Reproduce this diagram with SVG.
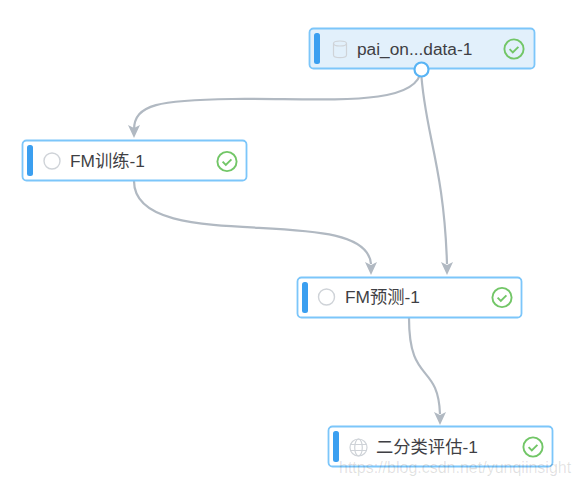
<svg xmlns="http://www.w3.org/2000/svg" width="579" height="486" viewBox="0 0 579 486">
<style>
.box{fill:#fff;stroke:#7cc6fa;stroke-width:1.8}
.sel{fill:#e2f0fb}
.bar{fill:#3b9ff0}
.lbl{font-family:"Liberation Sans","Noto Sans CJK SC",sans-serif;font-size:17.3px;fill:#3f3f44}
.ring{fill:none;stroke:#cfd3d8;stroke-width:1.4}
.ok{fill:none;stroke:#72c667;stroke-width:1.9}
.edge{fill:none;stroke:#b1b9c2;stroke-width:2.2}
.ah{fill:#b1b9c2}
.ic{fill:none;stroke:#cfd3d8;stroke-width:1.2}
.wm{font-family:"Liberation Sans",sans-serif;font-size:16px;fill:#000;fill-opacity:.12}
</style>
<defs>
<g id="chk"><circle r="9.6" class="ok"/><path d="M-4.4 .2 L-1.2 3.4 L4.4 -2.2" class="ok"/></g>
</defs>
<g id="connectors">
<path class="edge" d="M421 70 C418 108 322 98 232 99 C160 100 134 104 134 130"/>
<polygon class="ah" points="128,125 134,138 140,125 134,128"/>
<path class="edge" d="M421 70 C424 130 444 165 447 264"/>
<polygon class="ah" points="441,262 447,275 453,262 447,265"/>
<path class="edge" d="M134 181 C134 258 366 200 371 264"/>
<polygon class="ah" points="365,262 371,275 377,262 371,265"/>
<path class="edge" d="M409 318 C409 385 438 362 440 414"/>
<polygon class="ah" points="434,412 440,425 446,412 440,415"/>
</g>
<g id="node-data">
<rect class="box sel" x="309.500" y="28.500" width="225" height="40" rx="4"/>
<rect class="bar" x="314" y="33" width="6" height="31" rx="2.500"/>
<g class="ic"><ellipse cx="340" cy="43.500" rx="6.500" ry="2.500"/><path d="M333.500 43.500 V55 C333.500 58.500 346.500 58.500 346.500 55 V43.500"/></g>
<text class="lbl" x="357" y="55">pai_on...data-1</text>
<use href="#chk" x="514" y="49"/>
</g>
<circle id="port" cx="421.500" cy="69.500" r="7" fill="#fff" stroke="#58b4f5" stroke-width="2.200"/>
<g id="node-train">
<rect class="box" x="22.500" y="140.500" width="224" height="40" rx="4"/>
<rect class="bar" x="27" y="145" width="6" height="31" rx="2.500"/>
<circle class="ring" cx="52" cy="161" r="8"/>
<text class="lbl" x="70" y="167">FM训练-1</text>
<use href="#chk" x="227" y="161.500"/>
</g>
<g id="node-predict">
<rect class="box" x="297.500" y="277.500" width="224" height="40" rx="4"/>
<rect class="bar" x="302" y="282" width="6" height="31" rx="2.500"/>
<circle class="ring" cx="326.500" cy="297" r="8"/>
<text class="lbl" x="345" y="303">FM预测-1</text>
<use href="#chk" x="502" y="297.500"/>
</g>
<g id="node-eval">
<rect class="box" x="328.500" y="426.500" width="224" height="40" rx="4"/>
<rect class="bar" x="333" y="431" width="6" height="31" rx="2.500"/>
<g class="ic"><circle cx="358.500" cy="447.500" r="8.500"/><ellipse cx="358.500" cy="447.500" rx="3.800" ry="8.500"/><path d="M350.500 444.500 H366.500 M350.500 450.500 H366.500"/></g>
<text class="lbl" x="376" y="453">二分类评估-1</text>
<use href="#chk" x="533" y="447"/>
</g>
<text class="wm" x="339" y="473">https://blog.csdn.net/yunqiinsight</text>
</svg>
